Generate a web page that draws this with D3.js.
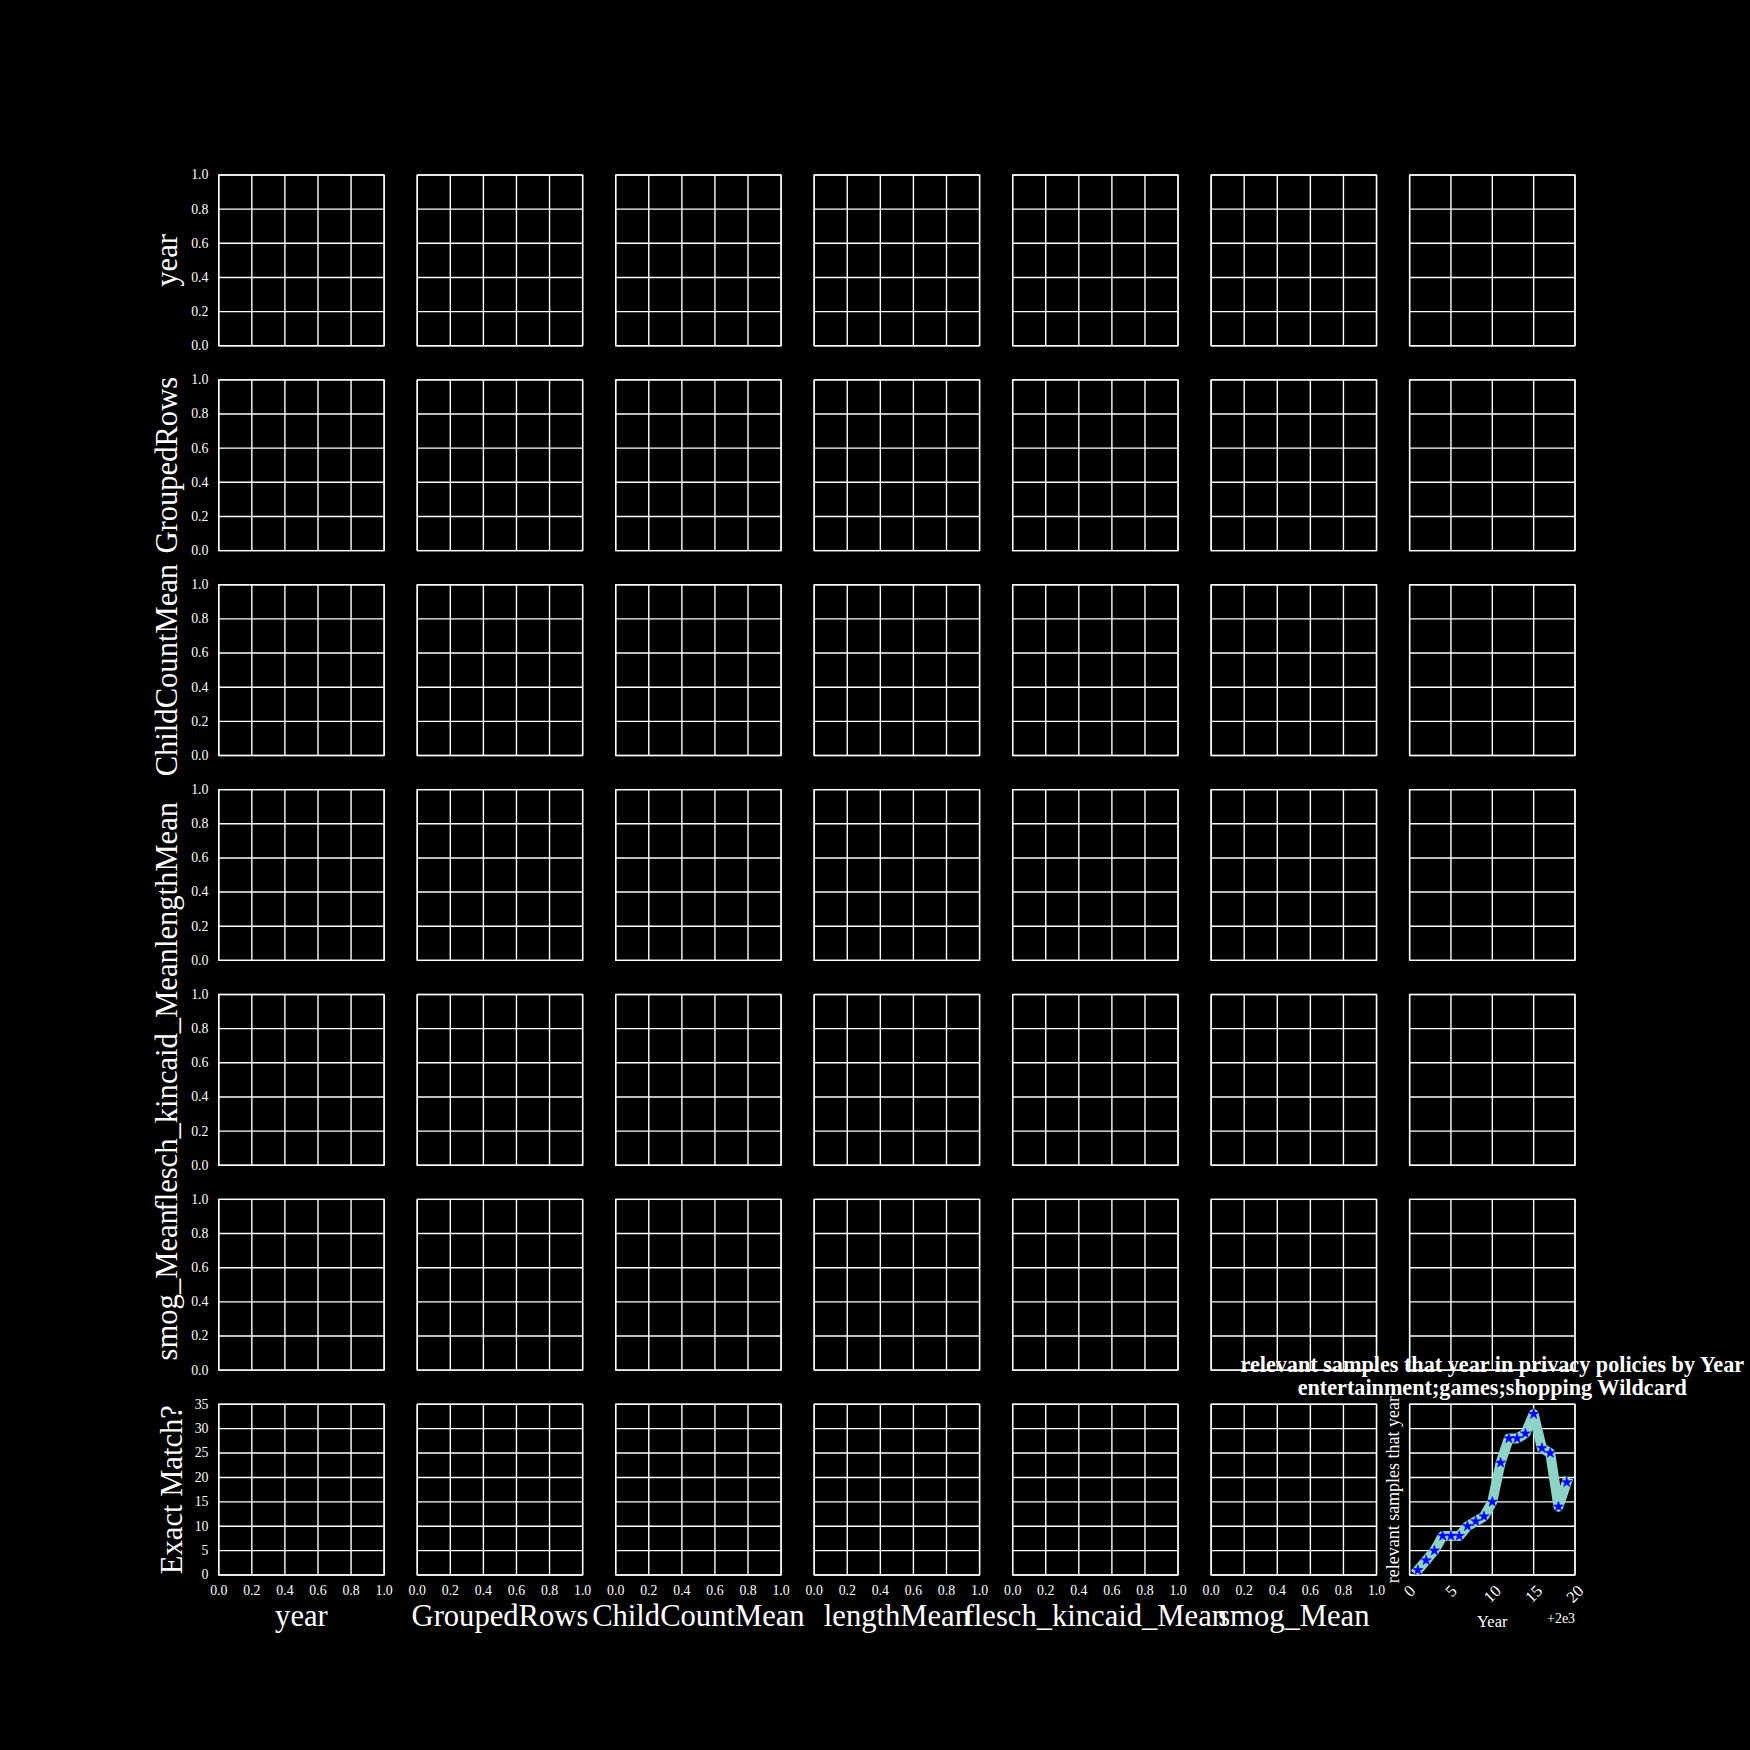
<!DOCTYPE html>
<html><head><meta charset="utf-8">
<script src="https://cdn.jsdelivr.net/npm/d3@7"></script>
<style>
html,body{margin:0;padding:0;background:#000;}
svg{display:block;}
text{font-family:"Liberation Serif","Times New Roman",serif;fill:#fff;}
</style>
</head><body>
<svg id="chart" width="1750" height="1750"></svg>
<script>
// ---------------- data ----------------
const rowLabels = ["year","GroupedRows","ChildCountMean","lengthMean","flesch_kincaid_Mean","smog_Mean","Exact Match?"];
const colLabels = ["year","GroupedRows","ChildCountMean","lengthMean","flesch_kincaid_Mean","smog_Mean"];
const unitTicks = [0, 0.2, 0.4, 0.6, 0.8, 1.0];
const countTicks = [0, 5, 10, 15, 20, 25, 30, 35];
const yearTicks = [2000, 2005, 2010, 2015, 2020];
const yearOffset = 2000;
const yearOffsetLabel = "+2e3";
const years = [2001,2002,2003,2004,2005,2006,2007,2008,2009,2010,2011,2012,2013,2014,2015,2016,2017,2018,2019];
const relevantSamples = [1,3,5,8,8,8,10,11,12,15,23,28,28,29,33,26,25,14,19];
const titleLines = ["relevant samples that year in privacy policies by Year","entertainment;games;shopping Wildcard"];
const yearAxisLabel = "Year";
const seriesAxisLabel = "relevant samples that year";

// ---------------- layout ----------------
const W = 1750, H = 1750;
const L = 0.125 * W, R = 0.9 * W, T = 0.1 * H, B = 0.9 * H;
const N = 7, gap = 0.2;
const cw = (R - L) / (N + (N - 1) * gap);
const ch = (B - T) / (N + (N - 1) * gap);
const px = i => L + i * cw * (1 + gap);
const py = j => T + j * ch * (1 + gap);

const svg = d3.select("#chart");
svg.append("rect").attr("width", W).attr("height", H).attr("fill", "#000");

const gridStroke = "#ffffff", gridW = 1.4;
const tickFs = 13.8;
const fmtUnit = d3.format(".1f");
const fmtInt = d3.format("d");

let lastX = null, lastY = null;

for (let j = 0; j < N; j++) {
  for (let i = 0; i < N; i++) {
    const x0 = px(i), y0 = py(j);
    const xs = i === 6 ? d3.scaleLinear([yearTicks[0], yearTicks[yearTicks.length-1]], [x0, x0 + cw])
                       : d3.scaleLinear([0, 1], [x0, x0 + cw]);
    const ys = j === 6 ? d3.scaleLinear([countTicks[0], countTicks[countTicks.length-1]], [y0 + ch, y0])
                       : d3.scaleLinear([0, 1], [y0 + ch, y0]);
    const xt = i === 6 ? yearTicks : unitTicks;
    const yt = j === 6 ? countTicks : unitTicks;
    const g = svg.append("g");

    // vertical grid
    g.append("g").attr("transform", `translate(0,${y0 + ch})`)
      .call(d3.axisBottom(xs).tickValues(xt).tickSize(-ch).tickFormat("").offset(0))
      .call(s => { s.select(".domain").remove();
                   s.selectAll("line").attr("stroke", gridStroke).attr("stroke-width", gridW); });
    // horizontal grid
    g.append("g").attr("transform", `translate(${x0},0)`)
      .call(d3.axisLeft(ys).tickValues(yt).tickSize(-cw).tickFormat("").offset(0))
      .call(s => { s.select(".domain").remove();
                   s.selectAll("line").attr("stroke", gridStroke).attr("stroke-width", gridW); });
    // frame (spines)
    g.append("rect").attr("x", x0).attr("y", y0).attr("width", cw).attr("height", ch)
      .attr("fill", "none").attr("stroke", "#fff").attr("stroke-width", 1.3);

    // y tick labels on first column
    if (i === 0) {
      g.append("g").attr("transform", `translate(${x0},0)`)
        .call(d3.axisLeft(ys).tickValues(yt).tickSize(0).tickPadding(10.3)
              .tickFormat(j === 6 ? fmtInt : fmtUnit).offset(0))
        .call(s => { s.select(".domain").remove();
                     s.attr("font-family", null).attr("font-size", null);
                     s.selectAll("text").attr("font-size", tickFs).attr("fill", "#fff"); });
    }
    // x tick labels on bottom row
    if (j === 6 && i < 6) {
      g.append("g").attr("transform", `translate(0,${y0 + ch})`)
        .call(d3.axisBottom(xs).tickValues(xt).tickSize(0).tickFormat(fmtUnit).offset(0))
        .call(s => { s.select(".domain").remove();
                     s.attr("font-family", null).attr("font-size", null);
                     s.selectAll("text").attr("font-size", tickFs).attr("fill", "#fff")
                       .attr("y", 20.3).attr("dy", null); });
    }
    if (j === 6 && i === 6) {
      const fs = 16.5;
      g.append("g").attr("transform", `translate(0,${y0 + ch})`)
        .call(d3.axisBottom(xs).tickValues(xt).tickSize(0).tickFormat(d => fmtInt(d - yearOffset)).offset(0))
        .call(s => { s.select(".domain").remove();
                     s.attr("font-family", null).attr("font-size", null);
                     s.selectAll("text").attr("font-size", fs).attr("fill", "#fff")
                       .attr("y", null).attr("dy", "0.33em").attr("text-anchor", "middle")
                       .each(function() {
                          const w = this.getComputedTextLength();
                          const h = fs * 0.68;
                          const bh = (w + h) * Math.SQRT1_2;
                          d3.select(this).attr("transform", `translate(0,${9.2 + bh / 2}) rotate(-45)`);
                       }); });
      lastX = xs; lastY = ys;
    }
  }
}

// row labels
rowLabels.forEach((t, j) => {
  const cy = py(j) + ch / 2;
  const bx = j === 6 ? 181.5 : 177;
  svg.append("text").attr("transform", `translate(${bx},${cy}) rotate(-90)`)
    .attr("text-anchor", "middle").attr("font-size", 30.6).text(t);
});
// column labels
colLabels.forEach((t, i) => {
  svg.append("text").attr("x", px(i) + cw / 2).attr("y", 1626)
    .attr("text-anchor", "middle").attr("font-size", 30.6).text(t);
});

// last panel: line + stars
const x6 = px(6), y6 = py(6);
svg.append("clipPath").attr("id", "clip6").append("rect")
  .attr("x", x6).attr("y", y6).attr("width", cw).attr("height", ch);
const pts = years.map((y, k) => [y, relevantSamples[k]]);
const line = d3.line().x(d => lastX(d[0])).y(d => lastY(d[1]));
svg.append("path").datum(pts).attr("clip-path", "url(#clip6)")
  .attr("d", line).attr("fill", "none").attr("stroke", "#8dd3c7")
  .attr("stroke-width", 10).attr("stroke-linejoin", "round").attr("stroke-linecap", "square");
svg.append("g").selectAll("path").data(pts).join("path")
  .attr("transform", d => `translate(${lastX(d[0])},${lastY(d[1])})`)
  .attr("d", d3.symbol(d3.symbolStar, 32))
  .attr("fill", "#0000ff").attr("stroke", "#0000ff").attr("stroke-width", 0.6);

// last panel labels
svg.append("text").attr("x", x6 + cw / 2).attr("y", 1626.5).attr("text-anchor", "middle")
  .attr("font-size", 16.5).text(yearAxisLabel);
svg.append("text").attr("x", x6 + cw).attr("y", 1622.5).attr("text-anchor", "end")
  .attr("font-size", 13.9).text(yearOffsetLabel);
svg.append("text").attr("transform", `translate(${1399},${y6 + ch / 2}) rotate(-90)`)
  .attr("text-anchor", "middle").attr("font-size", 18).text(seriesAxisLabel);
// title
titleLines.forEach((t, k) => {
  svg.append("text").attr("x", x6 + cw / 2).attr("y", 1372.3 + k * 22.7)
    .attr("text-anchor", "middle").attr("font-size", 22.2).attr("font-weight", "bold").text(t);
});
</script>
</body></html>
